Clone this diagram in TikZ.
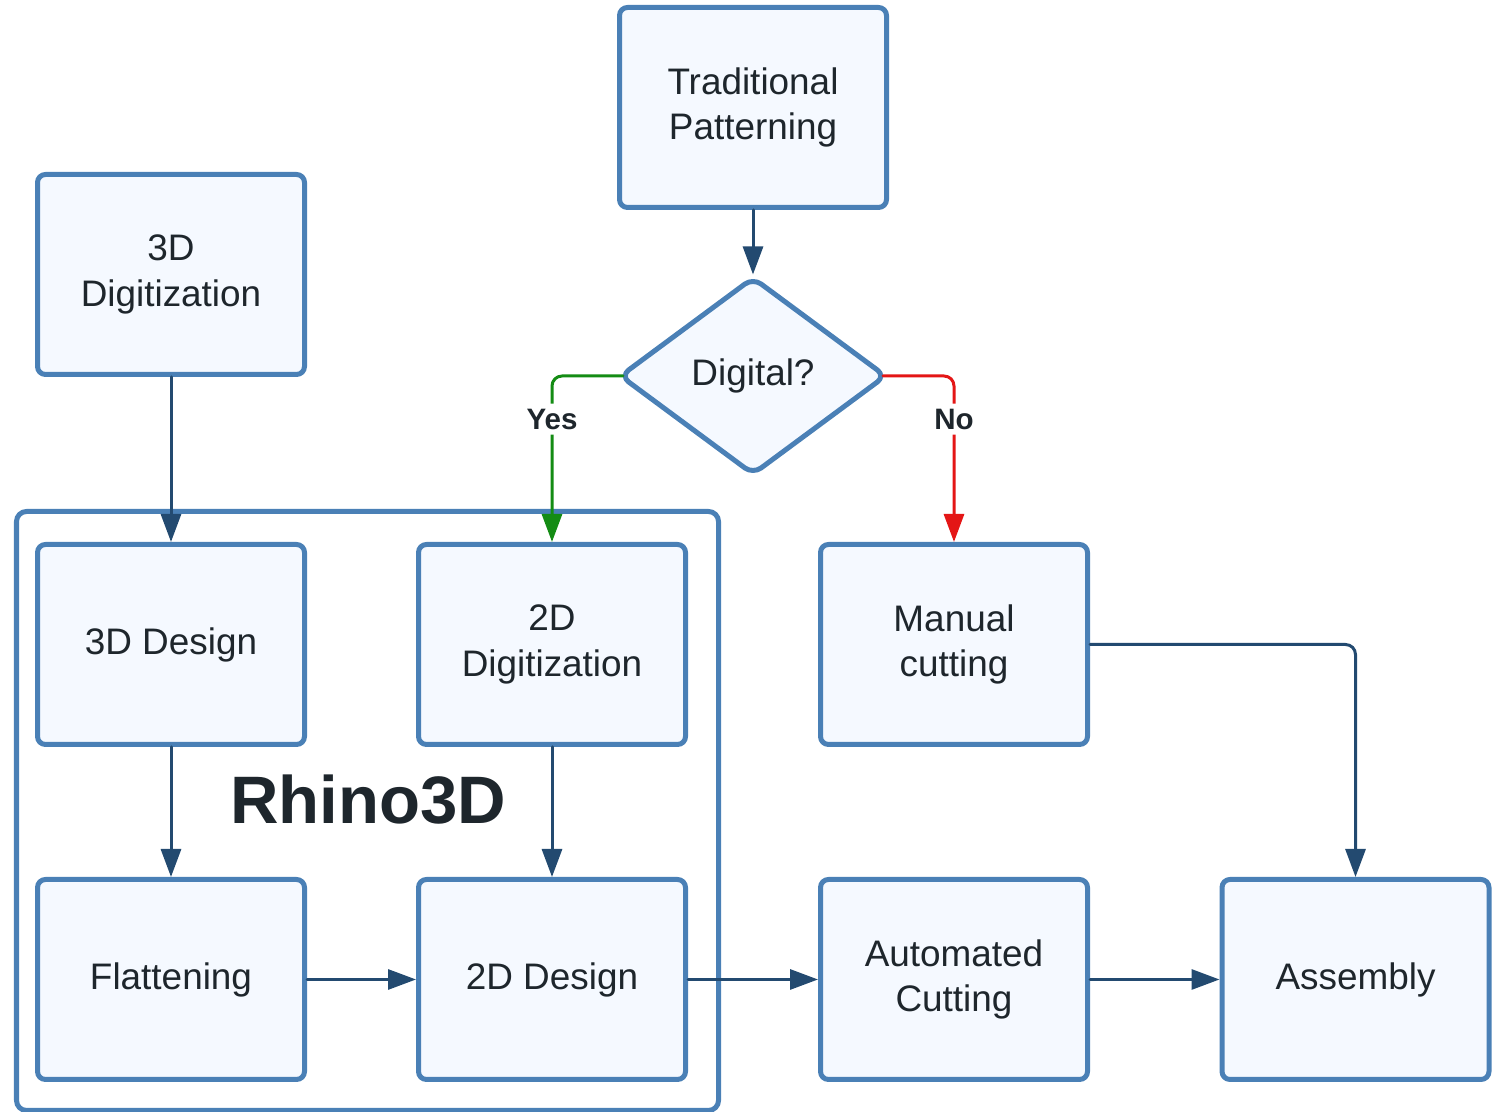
\documentclass[tikz,border=0pt]{standalone}
\usepackage{fontspec}
\setmainfont{Liberation Sans}
\usetikzlibrary{arrows.meta}
\usetikzlibrary{shapes.geometric}
\definecolor{boxline}{RGB}{74,128,182}
\definecolor{boxfill}{RGB}{245,249,255}
\definecolor{flowline}{RGB}{35,74,112}
\definecolor{txt}{RGB}{30,38,44}
\definecolor{yesgreen}{RGB}{20,140,20}
\definecolor{nored}{RGB}{228,22,22}

\begin{document}
\begin{tikzpicture}[line cap=round,line join=round,>={Triangle[length=0.28cm,width=0.2cm]},x=1cm,y=1cm,
  stepbox/.style={draw=boxline,fill=boxfill,line width=0.05cm,rounded corners=0.08cm,minimum width=2.67cm,minimum height=2cm,align=center,text=txt,font=\fontsize{10.5}{12.9}\selectfont},
  ask/.style={diamond,draw=boxline,fill=boxfill,line width=0.05cm,rounded corners=0.1cm,minimum width=2.67cm,minimum height=1.98cm,inner sep=0pt,text=txt,font=\fontsize{10.5}{12.9}\selectfont},
  flow/.style={draw=flowline,line width=0.03cm,rounded corners=0.1cm},
  lbl/.style={fill=white,inner sep=1.5pt,text=txt,font=\fontsize{8.4}{9}\selectfont\bfseries}]
\useasboundingbox (0,0) rectangle (15.01,11.12);
% Rhino3D frame
\node [draw=boxline,line width=0.05cm,rounded corners=0.1cm,minimum width=7.02cm,minimum height=5.99cm,inner sep=0pt] (frame) at (3.675,3.01) {};
\node [text=txt,font=\fontsize{19.1}{20}\selectfont\bfseries] (rhino) at (3.68,3.12) {Rhino3D};
% boxes
\node [stepbox] (trad) at (7.53,10.045) {Traditional\\Patterning};
\node [ask] (digital) at (7.53,7.36) {Digital?};
\node [stepbox] (dig3) at (1.71,8.375) {3D\\Digitization};
\node [stepbox] (des3) at (1.71,4.675) {3D Design};
\node [stepbox] (dig2) at (5.52,4.675) {2D\\Digitization};
\node [stepbox] (manual) at (9.54,4.675) {Manual\\cutting};
\node [stepbox] (flat) at (1.71,1.325) {Flattening};
\node [stepbox] (des2) at (5.52,1.325) {2D Design};
\node [stepbox] (auto) at (9.54,1.325) {Automated\\Cutting};
\node [stepbox] (assem) at (13.555,1.325) {Assembly};
% connectors
\draw[flow,->] (trad) -- (digital);
\draw[flow,draw=yesgreen,->,shorten <=-0.06cm] (digital.west) -| node[lbl,pos=0.63] {Yes} (dig2.north);
\draw[flow,draw=nored,->,shorten <=-0.06cm] (digital.east) -| node[lbl,pos=0.63] {No} (manual.north);
\draw[flow,->] (dig3) -- (des3);
\draw[flow,->] (des3) -- (flat);
\draw[flow,->] (dig2) -- (des2);
\draw[flow,->] (flat) -- (des2);
\draw[flow,->] (des2) -- (auto);
\draw[flow,->] (auto) -- (assem);
\draw[flow,->] (manual.east) -| (assem.north);
\end{tikzpicture}
\end{document}
